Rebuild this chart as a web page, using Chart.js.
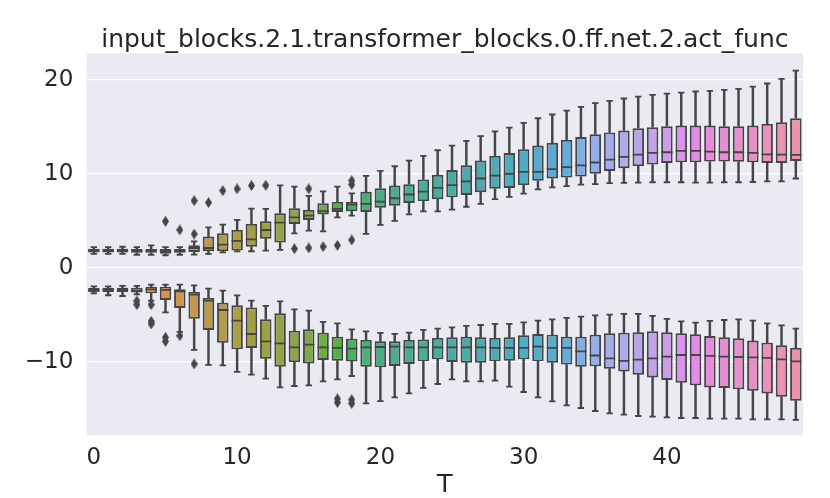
<!DOCTYPE html>
<html>
<head>
<meta charset="utf-8">
<script src="https://cdn.jsdelivr.net/npm/chart.js@4.4.0/dist/chart.umd.min.js"></script>
<style>
  body { margin: 0; background: #fff; }
  #wrap { width: 830px; height: 498px; }
</style>
</head>
<body>
<div id="wrap"><canvas id="chart" width="830" height="498"></canvas></div>
<script>
// categories (diffusion step T)
const steps = Array.from({length: 50}, (_, i) => i);
const xTicks = [0, 10, 20, 30, 40];
const yTicks = [-10, 0, 10, 20];
const chartTitle = 'input_blocks.2.1.transformer_blocks.0.ff.net.2.act_func';

// upper group: whisker low, q1, median, q3, whisker high
const upLo  = [1.5, 1.5, 1.5, 1.4, 1.4, 1.35, 1.4, 1.41, 1.49, 1.66, 1.75, 1.77, 1.84, 1.91, 3.68, 3.96, 3.89, 5.38, 5.56, 3.61,
               4.57, 5.0, 5.7, 6.0, 6.0, 6.2, 6.5, 6.8, 7.3, 7.55, 7.9, 8.35, 8.55, 8.7, 8.85, 8.9, 9.0, 9.03, 9.06, 9.1,
               9.1, 9.1, 9.06, 9.06, 9.1, 9.1, 9.13, 9.2, 9.2, 9.5];
const upQ1  = [1.65, 1.65, 1.65, 1.6, 1.6, 1.5, 1.6, 1.7, 1.77, 1.77, 1.84, 2.26, 3.11, 2.69, 4.67, 5.1, 5.67, 5.95, 6.02, 5.95,
               6.4, 6.6, 6.9, 7.1, 7.3, 7.5, 7.75, 8.05, 8.4, 8.5, 8.8, 9.25, 9.5, 9.6, 9.7, 10.0, 10.3, 10.6, 10.8, 10.98,
               11.16, 11.22, 11.22, 11.3, 11.3, 11.27, 11.22, 11.16, 11.16, 11.37];
const upMed = [1.85, 1.85, 1.8, 1.8, 1.8, 1.8, 1.8, 2.12, 2.12, 2.48, 2.87, 3.04, 4.03, 4.81, 5.38, 5.56, 6.02, 6.27, 6.73, 6.8,
               7.05, 7.4, 7.8, 8.1, 8.5, 8.8, 9.2, 9.5, 9.8, 10.0, 10.2, 10.2, 10.5, 10.7, 10.9, 11.2, 11.5, 11.8, 12.04, 12.22,
               12.29, 12.43, 12.43, 12.36, 12.29, 12.29, 12.22, 12.06, 12.04, 12.0];
const upQ3  = [2.05, 2.05, 2.05, 2.0, 2.0, 2.0, 2.0, 2.4, 3.33, 3.68, 4.04, 4.67, 4.95, 5.8, 6.34, 6.16, 6.87, 7.01, 7.01, 8.08,
               8.46, 8.75, 8.9, 9.4, 9.9, 10.4, 10.9, 11.4, 11.9, 12.2, 12.6, 13.0, 13.3, 13.6, 13.9, 14.2, 14.4, 14.6, 14.84, 14.94,
               15.05, 15.12, 15.12, 15.12, 15.05, 15.05, 15.12, 15.3, 15.47, 15.9];
const upHi  = [2.2, 2.2, 2.25, 2.2, 2.4, 2.2, 2.2, 2.83, 4.3, 4.6, 5.1, 6.3, 6.27, 8.78, 8.64, 7.65, 8.14, 8.64, 7.93, 9.77,
               10.3, 10.8, 11.4, 11.9, 12.5, 13.0, 13.5, 14.0, 14.5, 14.9, 15.4, 15.9, 16.3, 16.7, 17.1, 17.5, 17.75, 18.0, 18.2, 18.38,
               18.52, 18.63, 18.74, 18.81, 18.91, 19.02, 19.27, 19.59, 20.08, 20.97];
const upOut = [[5, 4.95], [6, 4.04], [7, 7.15], [7, 3.6], [8, 6.94], [9, 8.21], [10, 8.4], [11, 8.75], [12, 8.78],
               [14, 2.05], [15, 8.4], [15, 2.12], [16, 2.26], [17, 2.4], [18, 9.28], [18, 8.85], [18, 2.97]];

// lower group: whisker low, q1, median, q3, whisker high
const loLo  = [-2.7, -2.9, -2.98, -2.8, -3.48, -4.72, -6.8, -8.7, -10.3, -10.35, -11.05, -11.34, -11.76, -12.69, -12.54, -12.47, -12.05, -11.84, -11.48, -14.39,
               -14.15, -13.75, -13.33, -12.75, -12.33, -11.84, -12.05, -12.05, -11.98, -12.61, -13.18, -13.75, -14.18, -14.6, -14.88, -15.2, -15.45, -15.59, -15.73, -15.8,
               -15.88, -15.94, -15.94, -16.01, -16.01, -16.01, -16.09, -16.09, -16.09, -16.15];
const loQ1  = [-2.55, -2.55, -2.55, -2.6, -2.7, -3.4, -4.25, -5.39, -6.59, -7.94, -8.65, -8.5, -9.64, -10.49, -10.0, -10.14, -9.78, -9.85, -9.93, -10.49,
               -10.56, -10.41, -10.2, -9.92, -9.71, -9.99, -10.06, -10.06, -9.92, -9.85, -9.71, -9.92, -10.06, -10.27, -10.49, -10.45, -10.7, -10.99, -11.34, -11.63,
               -11.9, -12.19, -12.47, -12.69, -12.75, -12.9, -13.04, -13.33, -13.68, -14.1];
const loMed = [-2.35, -2.3, -2.3, -2.4, -2.27, -2.34, -2.49, -2.84, -3.48, -4.47, -5.6, -7.02, -7.8, -8.01, -8.44, -8.15, -8.44, -8.5, -8.58, -8.44,
               -8.4, -8.36, -8.44, -8.44, -8.44, -8.44, -8.44, -8.44, -8.5, -8.5, -8.5, -8.36, -8.5, -8.5, -8.86, -9.3, -9.6, -9.88, -9.74, -9.6,
               -9.42, -9.25, -9.25, -9.35, -9.42, -9.46, -9.5, -9.56, -9.71, -9.92];
const loQ3  = [-2.13, -2.1, -2.1, -2.1, -1.99, -1.99, -2.27, -2.55, -3.19, -3.69, -3.97, -4.19, -5.46, -4.82, -6.66, -6.52, -6.88, -7.3, -7.51, -7.65,
               -7.8, -7.8, -7.65, -7.59, -7.44, -7.37, -7.3, -7.37, -7.44, -7.37, -7.16, -7.02, -7.09, -7.3, -7.3, -7.09, -6.95, -6.88, -6.84, -6.73,
               -6.84, -6.95, -7.05, -7.23, -7.37, -7.48, -7.72, -7.94, -8.22, -8.5];
const loHi  = [-1.95, -1.95, -1.9, -1.9, -1.77, -1.77, -1.77, -1.85, -2.2, -2.41, -2.91, -3.48, -4.04, -3.55, -4.4, -4.54, -5.74, -5.89, -6.52, -6.74,
               -6.9, -7.0, -6.88, -6.59, -6.45, -6.31, -6.16, -6.06, -5.95, -5.95, -5.78, -5.6, -5.46, -5.31, -5.17, -5.03, -4.96, -4.89, -4.89, -5.1,
               -5.42, -5.67, -5.81, -5.63, -5.53, -5.46, -5.6, -5.89, -6.1, -6.45];
const loOut = [[3, -3.5], [3, -3.9], [4, -3.9], [4, -5.67], [4, -5.95], [5, -7.37], [5, -7.8], [6, -7.2], [7, -10.2],
               [17, -13.9], [17, -14.3], [18, -14.0], [18, -14.4]];

// seaborn-style husl palette (l=.7), desaturated to .75
const M = [[3.240969941904521, -1.537383177570093, -0.498610760293],
           [-0.96924363628087, 1.87596750150772, 0.041555057407175],
           [0.055630079696993, -0.20397695888897, 1.056971514242878]];
const REF_U = 0.19783000664283, REF_V = 0.46831999493879, KAPPA = 903.2962962, EPS = 0.0088564516;

function bounds(L) {
  const out = [];
  const sub1 = Math.pow(L + 16, 3) / 1560896;
  const sub2 = sub1 > EPS ? sub1 : L / KAPPA;
  for (const [m1, m2, m3] of M) {
    for (const t of [0, 1]) {
      const top1 = (284517 * m1 - 94839 * m3) * sub2;
      const top2 = (838422 * m3 + 769860 * m2 + 731718 * m1) * L * sub2 - 769860 * t * L;
      const bottom = (632260 * m3 - 126452 * m2) * sub2 + 126452 * t;
      out.push([top1 / bottom, top2 / bottom]);
    }
  }
  return out;
}
function maxChroma(L, H) {
  const hr = H / 360 * 2 * Math.PI;
  let min = Infinity;
  for (const [slope, icpt] of bounds(L)) {
    const len = icpt / (Math.sin(hr) - slope * Math.cos(hr));
    if (len >= 0) min = Math.min(min, len);
  }
  return min;
}
function huslToRgb(H, S, L) {
  const C = maxChroma(L, H) / 100 * S;
  const hr = H / 360 * 2 * Math.PI;
  const U = Math.cos(hr) * C, V = Math.sin(hr) * C;
  const varU = U / (13 * L) + REF_U, varV = V / (13 * L) + REF_V;
  const Y = L <= 8 ? L / KAPPA : Math.pow((L + 16) / 116, 3);
  const X = -(9 * Y * varU) / ((varU - 4) * varV - varU * varV);
  const Z = (9 * Y - 15 * varV * Y - varV * X) / (3 * varV);
  return M.map(r => {
    const c = r[0] * X + r[1] * Y + r[2] * Z;
    const v = c <= 0.0031308 ? 12.92 * c : 1.055 * Math.pow(c, 1 / 2.4) - 0.055;
    return Math.min(1, Math.max(0, v));
  });
}
function rgbToHls(r, g, b) {
  const mx = Math.max(r, g, b), mn = Math.min(r, g, b), l = (mx + mn) / 2;
  if (mx === mn) return [0, l, 0];
  const s = l <= 0.5 ? (mx - mn) / (mx + mn) : (mx - mn) / (2 - mx - mn);
  const rc = (mx - r) / (mx - mn), gc = (mx - g) / (mx - mn), bc = (mx - b) / (mx - mn);
  let h = r === mx ? bc - gc : g === mx ? 2 + rc - bc : 4 + gc - rc;
  h = ((h / 6) % 1 + 1) % 1;
  return [h, l, s];
}
function hlsToRgb(h, l, s) {
  if (s === 0) return [l, l, l];
  const m2 = l <= 0.5 ? l * (1 + s) : l + s - l * s, m1 = 2 * l - m2;
  const v = hue => {
    hue = ((hue % 1) + 1) % 1;
    if (hue < 1 / 6) return m1 + (m2 - m1) * hue * 6;
    if (hue < 0.5) return m2;
    if (hue < 2 / 3) return m1 + (m2 - m1) * (2 / 3 - hue) * 6;
    return m1;
  };
  return [v(h + 1 / 3), v(h), v(h - 1 / 3)];
}
const hls = steps.map(i => {
  const hue = ((i / steps.length + 0.01) % 1) * 359;
  const [h, l, s] = rgbToHls(...huslToRgb(hue, 0.9 * 99, 0.7 * 99));
  return [h, l, s * 0.75];
});
const toCss = c => 'rgb(' + c.map(v => Math.round(v * 255)).join(',') + ')';
const boxColors = hls.map(([h, l, s]) => toCss(hlsToRgb(h, l, s)));
const lum = Math.min(...hls.map(c => c[1])) * 0.6;
const gray = toCss([lum, lum, lum]);

// thin diamond marker for fliers
const flier = document.createElement('canvas');
flier.width = 7; flier.height = 11;
(() => {
  const c = flier.getContext('2d');
  c.fillStyle = gray;
  c.beginPath();
  c.moveTo(3.5, 0); c.lineTo(7, 5.5); c.lineTo(3.5, 11); c.lineTo(0, 5.5);
  c.closePath(); c.fill();
})();

const pair = (a, b) => a.map((v, i) => [v, b[i]]);
const whisker = (data) => ({
  data, backgroundColor: gray, borderWidth: 0, barThickness: 1.8, grouped: false, order: 5
});
const box = (data) => ({
  data, backgroundColor: boxColors, borderColor: gray, borderWidth: 1.9, borderSkipped: false,
  barPercentage: 0.8, categoryPercentage: 1.0, grouped: false, order: 3
});
const marks = (data, radius, order) => ({
  type: 'line', data, showLine: false, pointStyle: 'line', pointRadius: radius,
  pointBorderColor: gray, pointBorderWidth: 1.8, order
});
const fliers = (pts) => ({
  type: 'line', data: pts.map(([x, y]) => ({x, y})), showLine: false,
  pointStyle: flier, order: 0
});

const font = 'DejaVu Sans';
const bgPlugin = {
  id: 'plotBg',
  beforeDraw(chart) {
    const {ctx, chartArea: a} = chart;
    ctx.save();
    ctx.fillStyle = '#eaeaf2';
    ctx.fillRect(a.left, a.top, a.right - a.left, a.bottom - a.top);
    ctx.restore();
  },
  // title centred over the axes, like matplotlib
  afterDraw(chart) {
    const {ctx, chartArea: a} = chart;
    ctx.save();
    ctx.fillStyle = '#262626';
    ctx.font = '25px "' + font + '"';
    ctx.textAlign = 'center';
    ctx.textBaseline = 'alphabetic';
    ctx.fillText(chartTitle, (a.left + a.right) / 2, a.top - 6.8);
    ctx.restore();
  }
};

new Chart(document.getElementById('chart'), {
  type: 'bar',
  data: {
    labels: steps,
    datasets: [
      whisker(pair(upLo, upQ1)), whisker(pair(upQ3, upHi)),
      whisker(pair(loLo, loQ1)), whisker(pair(loQ3, loHi)),
      box(pair(upQ1, upQ3)), box(pair(loQ1, loQ3)),
      marks(upMed, 5.6, 1), marks(loMed, 5.6, 1),
      marks(upLo, 3.2, 1), marks(upHi, 3.2, 1), marks(loLo, 3.2, 1), marks(loHi, 3.2, 1),
      fliers(upOut), fliers(loOut)
    ]
  },
  options: {
    responsive: false,
    animation: false,
    layout: { padding: { left: 0, right: 27, top: 53.3, bottom: 0 } },
    plugins: {
      legend: { display: false },
      tooltip: { enabled: false },
      title: { display: false }
    },
    scales: {
      x: {
        grid: { display: false, drawTicks: false },
        border: { display: false },
        afterBuildTicks: (scale) => { scale.ticks = xTicks.map(v => ({value: v})); },
        afterFit: (scale) => { scale.height = 62.5; },
        ticks: {
          autoSkip: false, maxRotation: 0, padding: 9, color: '#262626',
          font: { family: font, size: 23 },
          callback: function (v) { return this.getLabelForValue(v); }
        },
        title: {
          display: true, text: 'T', color: '#262626',
          font: { family: font, size: 25.5, lineHeight: 1 }, padding: { top: 0, bottom: 0 }
        }
      },
      y: {
        min: -17.8,
        max: 22.8,
        grid: { color: '#ffffff', lineWidth: 1.3, drawTicks: false },
        border: { display: false },
        afterBuildTicks: (scale) => { scale.ticks = yTicks.map(v => ({value: v})); },
        afterFit: (scale) => { scale.width = 86.7; },
        ticks: {
          padding: 13.4, color: '#262626',
          font: { family: font, size: 23 },
          callback: (v) => v < 0 ? '\u2212' + Math.abs(v) : String(v)
        }
      }
    }
  },
  plugins: [bgPlugin]
});
</script>
</body>
</html>
